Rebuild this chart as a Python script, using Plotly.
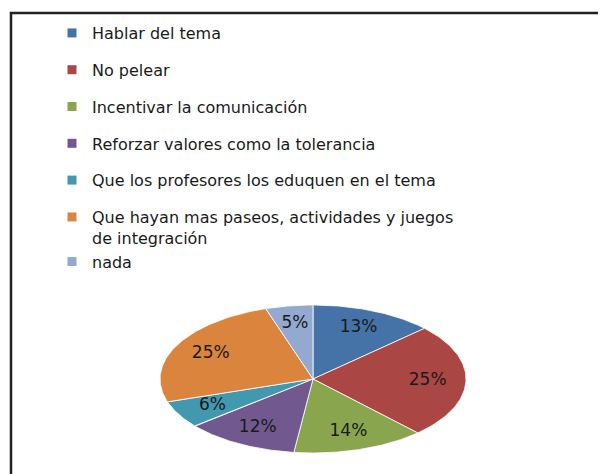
import numpy as np
import plotly.graph_objects as go

# datos de la encuesta
categorias = [
    "Hablar del tema",
    "No pelear",
    "Incentivar la comunicación",
    "Reforzar valores como la tolerancia",
    "Que los profesores los eduquen en el tema",
    "Que hayan mas paseos, actividades y juegos<br>de integración",
    "nada",
]
porcentajes = [13, 25, 14, 12, 6, 25, 5]
colores = ["#4572A7", "#AA4643", "#89A54E", "#71588F", "#4198AF", "#DB843D", "#93A9CF"]
# la ultima entrada va pegada a la anterior (leyenda de dos lineas)
grupos = ["g0", "g1", "g2", "g3", "g4", "g5", "g5"]

# pie dibujado como elipse (el original esta estirado en horizontal)
cx, cy = 313, 379
rx, ry = 153, 74
r_etiqueta = 0.75

# la pagina deja 8px de margen en body: los ejes van en px de pantalla
off = 8

fig = go.Figure()

total = sum(porcentajes)
inicio = 0.0
for nombre, val, col in zip(categorias, porcentajes, colores):
    a0 = inicio / total * 2 * np.pi
    a1 = (inicio + val) / total * 2 * np.pi
    t = np.linspace(a0, a1, 80)
    xs = np.concatenate([[cx], cx + rx * np.sin(t), [cx]])
    ys = np.concatenate([[cy], cy - ry * np.cos(t), [cy]])
    fig.add_trace(go.Scatter(
        x=xs, y=ys, fill="toself", fillcolor=col, mode="lines",
        line=dict(color="rgba(255,255,255,0.8)", width=1),
        showlegend=False, hoverinfo="text", text=f"{val}%",
    ))
    am = (a0 + a1) / 2
    fig.add_trace(go.Scatter(
        x=[cx + r_etiqueta * rx * np.sin(am)], y=[cy - r_etiqueta * ry * np.cos(am)],
        mode="text", text=[f"{val}%"],
        textfont=dict(family="DejaVu Sans", size=17, color="#1a1a1a"),
        showlegend=False, hoverinfo="skip",
    ))
    inicio += val

# entradas de leyenda
for nombre, col, g in zip(categorias, colores, grupos):
    fig.add_trace(go.Scatter(
        x=[None], y=[None], mode="markers", name=nombre,
        marker=dict(symbol="square", size=9, color=col),
        legendgroup=g,
    ))

# marco
fig.add_shape(type="rect", x0=11, y0=13, x1=640, y1=500,
              line=dict(color="#222222", width=2.5), layer="above")

fig.update_layout(
    width=606, height=474,
    margin=dict(l=0, r=0, t=0, b=0),
    paper_bgcolor="white", plot_bgcolor="white",
    xaxis=dict(range=[off, 606 + off], visible=False, fixedrange=True),
    yaxis=dict(range=[474 + off, off], visible=False, fixedrange=True),
    legend=dict(
        x=44 / 606, y=1 - 8 / 474, xanchor="left", yanchor="top",
        font=dict(family="DejaVu Sans", size=16, color="#1a1a1a"),
        tracegroupgap=13, bgcolor="rgba(0,0,0,0)",
        groupclick="toggleitem", valign="top",
    ),
    showlegend=True,
)

fig.write_html("out.html")
